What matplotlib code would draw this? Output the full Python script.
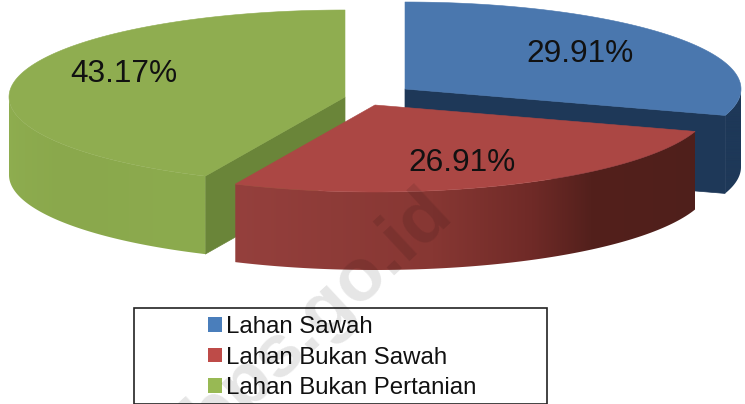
"""Exploded 3D pie of land use shares, drawn as extruded polygons."""

import matplotlib

matplotlib.use("Agg")
import matplotlib.pyplot as plt
import numpy as np
from matplotlib.colors import to_rgb
from matplotlib.patches import Patch, Polygon, Rectangle

plt.rcParams["font.family"] = ["Liberation Sans", "DejaVu Sans"]

categories = ["Lahan Sawah", "Lahan Bukan Sawah", "Lahan Bukan Pertanian"]
values = [29.91, 26.91, 43.17]
labels = ["29.91%", "26.91%", "43.17%"]

top_colors = ["#4a77ae", "#ab4744", "#8fad50"]
legend_colors = ["#4a7ebb", "#be4b48", "#98b954"]
face_colors = ["#1e3858", "#5a211d", "#6a8539"]

# apex of each exploded slice, pixels
centers = [(405, 89), (375, 105), (345, 97)]
A, B, DEPTH = 336, 87, 78

# rim shading, (angle in degrees from 12 o'clock, colour)
rim_stops = [
    [(90, "#1e3858"), (108, "#1e3858")],
    [(108, "#4f1f1b"), (140, "#53201c"), (152, "#6f2a27"), (170, "#873733"), (205, "#95403d")],
    [(205, "#8cab4e"), (235, "#8aa84c"), (270, "#8fae50")],
]
label_xy = [(580, 54), (462, 163), (124, 74)]


def ell(center, t):
    """Points on the slice's ellipse, t in degrees clockwise from 12 o'clock."""
    r = np.radians(t)
    return center[0] + A * np.sin(r), center[1] - B * np.cos(r)


def draw_rim(ax, i, t0, t1, z):
    """Outer rim as a horizontal colour ramp clipped to the extruded arc."""
    c = centers[i]
    lo, hi = max(t0, 90), min(t1, 270)
    ts = np.linspace(lo, hi, 300)
    xs, ys = ell(c, ts)
    outline = np.vstack([np.column_stack([xs, ys]),
                         np.column_stack([xs, ys + DEPTH])[::-1]])
    clip = Polygon(outline, transform=ax.transData)

    angles = [s[0] for s in rim_stops[i]]
    rgb = np.array([to_rgb(s[1]) for s in rim_stops[i]])
    col_x = np.linspace(xs.min(), xs.max(), 400)
    order = np.argsort(xs)
    col_t = np.interp(col_x, xs[order], ts[order])
    ramp = np.stack([np.interp(col_t, angles, rgb[:, k]) for k in range(3)], axis=-1)
    im = ax.imshow(ramp[np.newaxis, :, :], aspect="auto", zorder=z, interpolation="bilinear",
                   extent=(xs.min(), xs.max(), ys.max() + DEPTH, ys.min()))
    im.set_clip_path(clip)


def draw_slice(ax, i, t0, t1, z):
    c = centers[i]
    # flat cut face, only the one that turns toward the viewer
    if i != 1:
        x, y = ell(c, t1 if i == 0 else t0)
        ax.add_patch(Polygon([c, (x, y), (x, y + DEPTH), (c[0], c[1] + DEPTH)], zorder=z,
                             fc=face_colors[i], ec=face_colors[i], lw=0.5))
    draw_rim(ax, i, t0, t1, z + 0.01)
    # top surface
    xs, ys = ell(c, np.linspace(t0, t1, 200))
    ax.add_patch(Polygon(np.vstack([[c], np.column_stack([xs, ys])]), zorder=z + 0.02,
                         fc=top_colors[i], ec=top_colors[i], lw=0.4))


fig = plt.figure(figsize=(7.45, 4.04), dpi=100)
ax = fig.add_axes([0, 0, 1, 1])
ax.axis("off")

bounds = np.concatenate([[0], np.cumsum(values)]) / sum(values) * 360
for z, i in enumerate([0, 2, 1]):
    draw_slice(ax, i, bounds[i], bounds[i + 1], 1 + z * 0.1)
ax.set_xlim(0, 745)
ax.set_ylim(404, 0)

for (x, y), s in zip(label_xy, labels):
    ax.text(x, y, s, fontsize=22.8, ha="center", va="center", color="#111111", zorder=3)

# legend box
ax.add_patch(Rectangle((133.5, 307.5), 413, 96, fc="white", ec="#222222", lw=1.2, zorder=2))
handles = [Patch(fc=c, ec="none") for c in legend_colors]
ax.legend(handles, categories, loc="upper left", bbox_to_anchor=(200 / 745, 1 - 307.5 / 404),
          bbox_transform=fig.transFigure, frameon=False, fontsize=17.3, handlelength=0.55,
          handleheight=0.55, handletextpad=0.18, labelspacing=0.36, borderpad=0.35,
          borderaxespad=0, labelcolor="#111111")

# site watermark
ax.text(319, 315, "bps.go.id", fontsize=54, fontweight="bold", color="black", alpha=0.1,
        rotation=43, ha="center", va="center", rotation_mode="anchor", zorder=6)

fig.savefig("out.png", dpi=100)
plt.close(fig)
